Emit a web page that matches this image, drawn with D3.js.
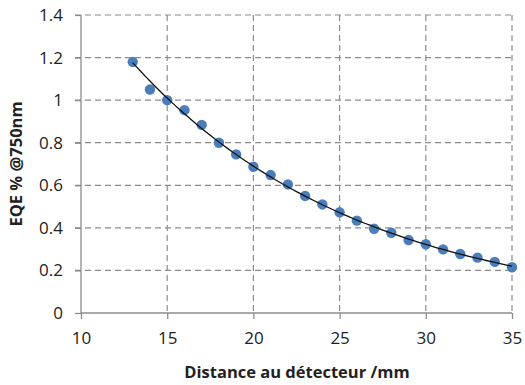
<!DOCTYPE html>
<html lang="fr">
<head>
<meta charset="UTF-8">
<title>EQE</title>
<script src="https://cdn.jsdelivr.net/npm/d3@7"></script>
<style>
    body { margin:0; background:#fff; }
    .axis text { font: 17px "Open Sans", sans-serif; fill:#222; }
    .axis path, .axis line { stroke:#8c8c8c; stroke-width:1.3; }
    .grid line { stroke:#8c8c8c; stroke-dasharray:6,4; stroke-width:1.2; }
    .title { font: bold 16.5px "Open Sans", sans-serif; fill:#222; }
</style>
</head>
<body>
<div class="app"></div>
<script>
    // données
    var distance = [13,14,15,16,17,18,19,20,21,22,23,24,25,26,27,28,29,30,31,32,33,34,35];
    var eqe = [1.18,1.05,1.0,0.953,0.884,0.80,0.745,0.687,0.648,0.604,0.55,0.51,0.473,0.434,0.396,0.377,0.343,0.323,0.299,0.277,0.26,0.24,0.215];
    var xTicks = [10,15,20,25,30,35];
    var yTicks = [0,0.2,0.4,0.6,0.8,1,1.2,1.4];

    var width = 525, height = 385;
    var svg = d3.select('.app').append('svg')
        .attr('width', width).attr('height', height);

    var margin = {top:15, left:81, right:13, bottom:72};
    var w = width - margin.left - margin.right,
        h = height - margin.top - margin.bottom;
    var g = svg.append('g').attr('transform','translate('+margin.left+','+margin.top+')');

    var x = d3.scaleLinear().domain([10,35]).range([0,w]);
    var y = d3.scaleLinear().domain([0,1.4]).range([h,0]);

    // grille
    g.append('g').attr('class','grid')
        .selectAll('line').data(yTicks.slice(1)).enter().append('line')
        .attr('x1',-6).attr('x2',w)
        .attr('y1',function(d){return y(d);}).attr('y2',function(d){return y(d);});
    g.append('g').attr('class','grid')
        .selectAll('line').data(xTicks.slice(1)).enter().append('line')
        .attr('x1',function(d){return x(d);}).attr('x2',function(d){return x(d);})
        .attr('y1',0).attr('y2',h);

    // axes
    var xAxis = g.append('g').attr('class','axis')
        .attr('transform','translate(0,'+h+')')
        .call(d3.axisBottom(x).tickValues(xTicks).tickSize(6).tickPadding(13).tickFormat(d3.format('d')));
    xAxis.select('.domain').attr('d','M0,0H'+w);
    var yAxis = g.append('g').attr('class','axis')
        .call(d3.axisLeft(y).tickValues(yTicks).tickSize(6).tickPadding(12).tickFormat(function(d){return String(+d.toFixed(1));}));
    yAxis.select('.domain').attr('d','M0,'+h+'V0');

    // courbe de tendance exponentielle (moindres carrés sur ln y, comme Excel)
    var lx = d3.mean(distance),
        ly = d3.mean(eqe, function(v){return Math.log(v);});
    var sxy = 0, sxx = 0;
    distance.forEach(function(d,i){
        sxy += (d-lx)*(Math.log(eqe[i])-ly);
        sxx += (d-lx)*(d-lx);
    });
    var b = sxy/sxx, a = Math.exp(ly - b*lx);
    var fit = d3.range(13, 35.01, 0.25).map(function(d){ return [d, a*Math.exp(b*d)]; });

    // points
    g.selectAll('.pt').data(distance).enter().append('circle')
        .attr('class','pt')
        .attr('cx',function(d){return x(d);})
        .attr('cy',function(d,i){return y(eqe[i]);})
        .attr('r',5.2)
        .attr('fill','#4a7ebb');

    g.append('path').datum(fit)
        .attr('fill','none').attr('stroke','#111').attr('stroke-width',1.3)
        .attr('d', d3.line().x(function(d){return x(d[0]);}).y(function(d){return y(d[1]);}));

    // titres
    svg.append('text').attr('class','title')
        .attr('x', 297).attr('y', 378).attr('text-anchor','middle')
        .text('Distance au détecteur /mm');
    svg.append('text').attr('class','title')
        .attr('transform','translate(22,'+(margin.top + h/2)+') rotate(-90)')
        .attr('text-anchor','middle')
        .text('EQE % @750nm');
</script>
</body>
</html>
